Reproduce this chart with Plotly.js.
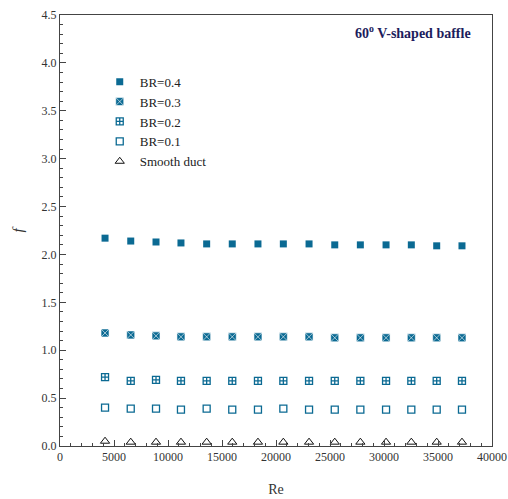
<!DOCTYPE html>
<html>
<head>
<meta charset="utf-8">
<script src="https://cdn.plot.ly/plotly-3.0.1.min.js"></script>
<style>html,body{margin:0;padding:0;background:#fff;}</style>
</head>
<body>
<div id="chart" style="width:508px;height:499px;"></div>
<script>
const re = [4170, 6550, 8890, 11200, 13580, 15950, 18330, 20680, 23060, 25440, 27810, 30190, 32530, 34880, 37220];
const br04 = [2.17, 2.14, 2.13, 2.12, 2.11, 2.11, 2.11, 2.11, 2.11, 2.10, 2.10, 2.10, 2.10, 2.09, 2.09];
const br03 = [1.18, 1.16, 1.15, 1.14, 1.14, 1.14, 1.14, 1.14, 1.14, 1.13, 1.13, 1.13, 1.13, 1.13, 1.13];
const br02 = [0.72, 0.68, 0.69, 0.68, 0.68, 0.68, 0.68, 0.68, 0.68, 0.68, 0.68, 0.68, 0.68, 0.68, 0.68];
const br01 = [0.40, 0.39, 0.39, 0.38, 0.39, 0.38, 0.38, 0.39, 0.38, 0.38, 0.38, 0.38, 0.38, 0.38, 0.38];
const smooth = [0.05, 0.04, 0.04, 0.04, 0.04, 0.04, 0.04, 0.04, 0.04, 0.04, 0.04, 0.04, 0.04, 0.04, 0.04];
const names = ['BR=0.4', 'BR=0.3', 'BR=0.2', 'BR=0.1', 'Smooth duct'];

const blue = '#0b6a93';
const traces = [
  {x: re, y: br04, name: names[0], mode: 'markers', type: 'scatter',
   marker: {symbol: 'square', size: 7, color: blue, line: {width: 0}}},
  {x: re, y: br03, name: names[1], mode: 'markers', type: 'scatter',
   marker: {symbol: 'square-x', size: 8, color: blue, line: {width: 0.6, color: '#ffffff'}}},
  {x: re, y: br02, name: names[2], mode: 'markers', type: 'scatter',
   marker: {symbol: 'square-cross-open', size: 7, color: blue, line: {width: 1.3, color: blue}}},
  {x: re, y: br01, name: names[3], mode: 'markers', type: 'scatter',
   marker: {symbol: 'square-open', size: 7, color: blue, line: {width: 1.3, color: blue}}},
  {x: re, y: smooth, name: names[4], mode: 'markers', type: 'scatter',
   marker: {symbol: 'triangle-up-open', size: 8, color: '#111', line: {width: 1, color: '#111'}}}
];

const serif = 'Liberation Serif, Times New Roman, serif';
const layout = {
  width: 508, height: 499,
  margin: {l: 60, r: 16, t: 15, b: 53},
  paper_bgcolor: '#fff', plot_bgcolor: '#fff',
  font: {family: serif, size: 12, color: '#333'},
  showlegend: true,
  legend: {x: 0.092, y: 0.88, xanchor: 'left', yanchor: 'top', bgcolor: 'rgba(0,0,0,0)',
           font: {family: serif, size: 13, color: '#222'}, tracegroupgap: 0, itemwidth: 30},
  xaxis: {range: [0, 40000], dtick: 5000, tick0: 0, ticks: 'inside', ticklen: 6, tickcolor: '#444',
          tickformat: 'd',
          showline: true, linecolor: '#444', linewidth: 1, mirror: true, showgrid: false, zeroline: false,
          tickfont: {family: serif, size: 12, color: '#333'},
          minor: {dtick: 1000, ticks: 'inside', ticklen: 3, tickcolor: '#444', showgrid: false},
          title: {text: 'Re', font: {family: serif, size: 14, color: '#333'}, standoff: 20}},
  yaxis: {range: [0, 4.5], dtick: 0.5, tick0: 0, ticks: 'inside', ticklen: 6, tickcolor: '#444',
          tickformat: '.1f',
          showline: true, linecolor: '#444', linewidth: 1, mirror: true, showgrid: false, zeroline: false,
          tickfont: {family: serif, size: 12, color: '#333'},
          minor: {dtick: 0.1, ticks: 'inside', ticklen: 3, tickcolor: '#444', showgrid: false},
          title: {text: '<i>f</i>', font: {family: serif, size: 15, color: '#333'}, standoff: 14}},
  annotations: [{
    text: '<b>60<sup>o</sup> V-shaped baffle</b>', xref: 'paper', yref: 'paper',
    x: 0.955, y: 0.985, xanchor: 'right', yanchor: 'top', showarrow: false,
    font: {family: serif, size: 14, color: '#1c1c5c'}
  }]
};
Plotly.newPlot('chart', traces, layout, {displayModeBar: false, staticPlot: true});
</script>
</body>
</html>
